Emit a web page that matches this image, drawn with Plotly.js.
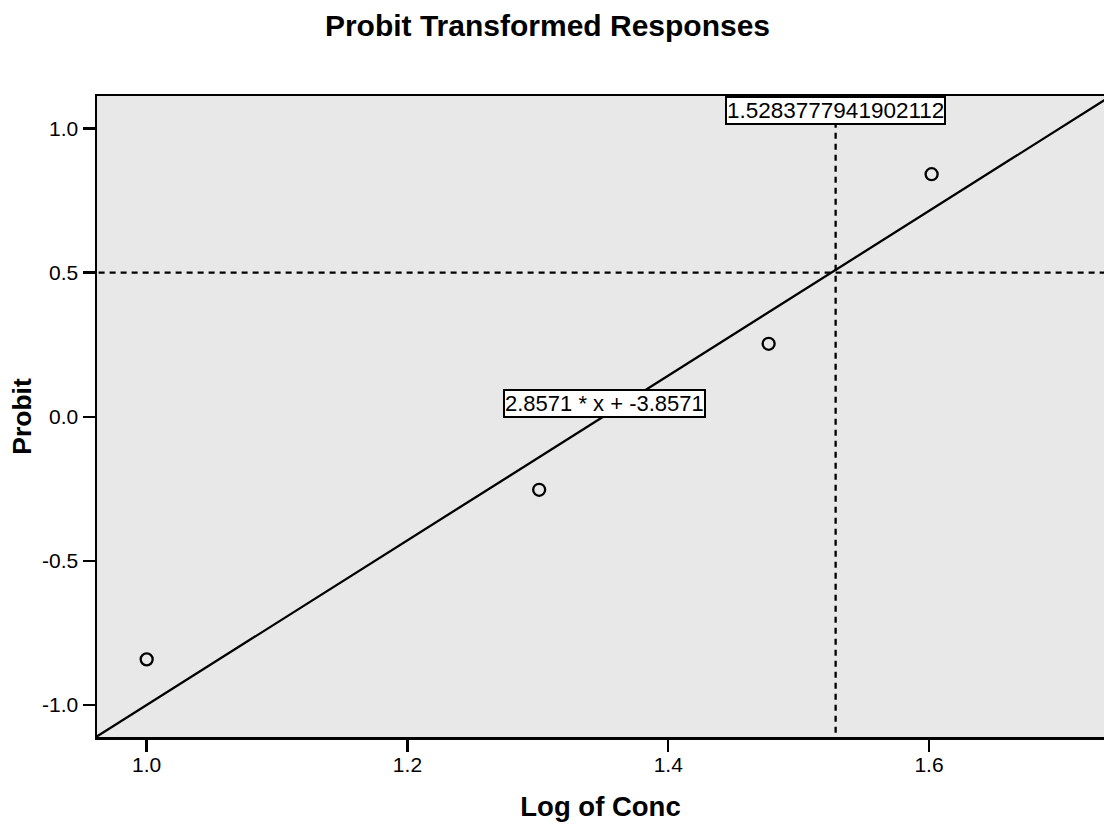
<!DOCTYPE html>
<html>
<head>
<meta charset="utf-8">
<script src="https://cdn.plot.ly/plotly-3.0.1.min.js"></script>
<style>html,body{margin:0;padding:0;background:#fff;}#chart{width:1104px;height:825px;}</style>
</head>
<body>
<div id="chart"></div>
<script>
// Observed points
const logConc = [1.0, 1.301, 1.477, 1.602];
const probit = [-0.8416, -0.2533, 0.2533, 0.8416];
// Fitted line endpoints (2.8571 * x + -3.8571)
const fitX = [0.95, 1.75];
const fitY = [-1.1429, 1.1428];
// Reference lines
const ld50X = 1.5283777941902112;
const refY = 0.5;
// Labels
const ld50Label = "1.5283777941902112";
const eqLabel = "2.8571 * x + -3.8571";
const xTicks = [1.0, 1.2, 1.4, 1.6];
const xTickText = ["1.0", "1.2", "1.4", "1.6"];
const yTicks = [-1.0, -0.5, 0.0, 0.5, 1.0];
const yTickText = ["-1.0", "-0.5", "0.0", "0.5", "1.0"];
const xRange = [0.9619, 1.7342];
const yRange = [-1.111, 1.113];

const font = "Liberation Sans, Arial, sans-serif";

const traces = [
  {x: fitX, y: fitY, mode: "lines", type: "scatter",
   line: {color: "#000", width: 2.3}, hoverinfo: "skip", showlegend: false},
  {x: [ld50X, ld50X], y: [yRange[0] - 0.1, yRange[1] + 0.1], mode: "lines", type: "scatter",
   line: {color: "#000", width: 2.3, dash: "6px,5px"}, hoverinfo: "skip", showlegend: false},
  {x: [xRange[0] - 0.1, xRange[1] + 0.1], y: [refY, refY], mode: "lines", type: "scatter",
   line: {color: "#000", width: 2.3, dash: "6px,5px"}, hoverinfo: "skip", showlegend: false},
  {x: logConc, y: probit, mode: "markers", type: "scatter",
   marker: {symbol: "circle-open", size: 12, color: "#000", line: {width: 2.3, color: "#000"}},
   showlegend: false}
];

const layout = {
  width: 1104, height: 825,
  margin: {l: 97, r: 0, t: 96, b: 88, pad: 0},
  paper_bgcolor: "#fff",
  plot_bgcolor: "#e8e8e8",
  showlegend: false,
  font: {family: font, color: "#000"},
  title: {text: "<b>Probit Transformed Responses</b>", font: {family: font, size: 30, color: "#000"},
          x: 547.5 / 1104, xref: "container", xanchor: "center", y: 1 - 25 / 825, yref: "container", yanchor: "middle"},
  xaxis: {
    range: xRange, tickvals: xTicks, ticktext: xTickText,
    showgrid: false, zeroline: false,
    showline: true, linecolor: "#000", linewidth: 2.5, mirror: true,
    ticks: "outside", ticklen: 12, tickwidth: 2.5, tickcolor: "#000",
    ticklabelstandoff: -5,
    tickfont: {family: font, size: 21, color: "#000"},
    title: {text: "<b>Log of Conc</b>", font: {family: font, size: 27.5, color: "#000"}, standoff: 22}
  },
  yaxis: {
    range: yRange, tickvals: yTicks, ticktext: yTickText,
    showgrid: false, zeroline: false,
    showline: true, linecolor: "#000", linewidth: 2.5, mirror: false,
    ticks: "outside", ticklen: 12, tickwidth: 2.5, tickcolor: "#000",
    tickfont: {family: font, size: 21, color: "#000"},
    title: {text: "<b>Probit</b>", font: {family: font, size: 26.5, color: "#000"}, standoff: 3}
  },
  annotations: [
    {x: ld50X, y: 1.064, xref: "x", yref: "y", text: ld50Label, showarrow: false,
     font: {family: font, size: 22.5, color: "#000"}, bgcolor: "#fff", bordercolor: "#000", borderwidth: 2, borderpad: 0},
    {x: 1.3511, y: 0.046, xref: "x", yref: "y", text: eqLabel, showarrow: false,
     font: {family: font, size: 22, color: "#000"}, bgcolor: "#fff", bordercolor: "#000", borderwidth: 2, borderpad: 0}
  ]
};

Plotly.newPlot("chart", traces, layout, {displayModeBar: false, staticPlot: true});
</script>
</body>
</html>
